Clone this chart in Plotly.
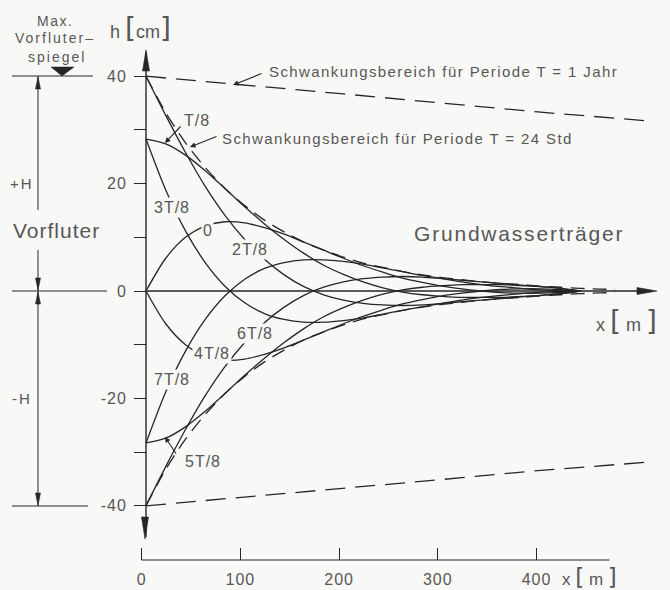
import plotly.graph_objects as go

# ---------------- data ----------------
x_m = [0, 20, 40, 60, 80, 100, 120, 140, 160, 180, 200, 220,
       240, 260, 280, 300, 320, 340, 360, 380, 400, 420, 440]

h_0T8 = [0.0, 6.1, 10.0, 12.1, 12.9, 12.7, 11.8, 10.6, 9.1, 7.6, 6.1, 4.7,
         3.5, 2.4, 1.6, 0.9, 0.4, 0.0, -0.3, -0.4, -0.4, -0.25, 0.0]
h_1T8 = [28.3, 27.4, 25.3, 22.4, 19.1, 15.7, 12.5, 9.6, 7.0, 4.8, 3.1, 1.7,
         0.6, -0.2, -0.7, -1.0, -1.2, -1.2, -1.2, -1.0, -0.8, -0.5, 0.0]
h_2T8 = [40.0, 32.7, 25.8, 19.5, 14.1, 9.6, 5.9, 3.0, 0.8, -0.7, -1.7, -2.3,
         -2.6, -2.7, -2.6, -2.3, -2.0, -1.7, -1.4, -1.1, -0.8, -0.5, 0.0]
h_3T8 = [28.3, 18.8, 11.2, 5.3, 0.9, -2.2, -4.2, -5.3, -5.8, -5.8, -5.5, -5.0,
         -4.3, -3.6, -2.9, -2.3, -1.7, -1.2, -0.8, -0.5, -0.2, -0.1, 0.0]
h_4T8 = [0.0, -6.1, -10.0, -12.1, -12.9, -12.7, -11.8, -10.6, -9.1, -7.6, -6.1, -4.7,
         -3.5, -2.4, -1.6, -0.9, -0.4, 0.0, 0.3, 0.4, 0.4, 0.25, 0.0]
h_5T8 = [-28.3, -27.4, -25.3, -22.4, -19.1, -15.7, -12.5, -9.6, -7.0, -4.8, -3.1, -1.7,
         -0.6, 0.2, 0.7, 1.0, 1.2, 1.2, 1.2, 1.0, 0.8, 0.5, 0.0]
h_6T8 = [-40.0, -32.7, -25.8, -19.5, -14.1, -9.6, -5.9, -3.0, -0.8, 0.7, 1.7, 2.3,
         2.6, 2.7, 2.6, 2.3, 2.0, 1.7, 1.4, 1.1, 0.8, 0.5, 0.0]
h_7T8 = [-28.3, -18.8, -11.2, -5.3, -0.9, 2.2, 4.2, 5.3, 5.8, 5.8, 5.5, 5.0,
         4.3, 3.6, 2.9, 2.3, 1.7, 1.2, 0.8, 0.5, 0.2, 0.1, 0.0]

x_env24 = [0, 20, 40, 60, 80, 100, 120, 140, 160, 180, 200, 220, 240,
           260, 280, 300, 320, 340, 360, 380, 400, 420, 440, 460, 475]
env24_upper = [40.0, 33.2, 27.6, 23.0, 19.1, 15.9, 13.2, 11.0, 9.1, 7.6, 6.3, 5.2, 4.4,
               3.6, 3.0, 2.5, 2.1, 1.7, 1.4, 1.2, 0.9, 0.7, 0.5, 0.35, 0.3]
env24_lower = [-40.0, -33.2, -27.6, -23.0, -19.1, -15.9, -13.2, -11.0, -9.1, -7.6, -6.3, -5.2, -4.4,
               -3.6, -3.0, -2.5, -2.1, -1.7, -1.4, -1.2, -0.9, -0.7, -0.5, -0.35, -0.3]

x_year = [0, 100, 200, 300, 400, 514]
year_upper = [40.0, 38.4, 36.7, 35.0, 33.3, 31.6]
year_lower = [-40.0, -38.4, -36.7, -35.1, -33.4, -31.8]

y_tick_vals = [-40, -30, -20, -10, 0, 10, 20, 30, 40]
y_tick_text = ["-40", "", "-20", "", "0", "", "20", "", "40"]
x_tick_vals = [0, 100, 200, 300, 400]
x_tick_text = ["0", "100", "200", "300", "400"]

# ---------------- styling / layout helpers ----------------
FIG_W, FIG_H = 670, 590
BG = "#f8f8f6"
INK = "#262626"
TXT = "#575757"
FONT = "Liberation Sans, Arial, sans-serif"

X_ORIGIN_PX, X_PX_PER_M = 146.0, 0.987
Y_ORIGIN_PX, Y_PX_PER_CM = 291.0, 5.37
BOTTOM_ORIGIN_PX = 141.7


def xm(px):
    return (px - X_ORIGIN_PX) / X_PX_PER_M


def hc(py):
    return (Y_ORIGIN_PX - py) / Y_PX_PER_CM


def pxp(px):
    return px / FIG_W


def pyp(py):
    return 1 - py / FIG_H


def spaced(s, ls):
    return f"<span style='letter-spacing:{ls}px'>{s}</span>"


fig = go.Figure()

for h in (h_0T8, h_1T8, h_2T8, h_3T8, h_4T8, h_5T8, h_6T8, h_7T8):
    fig.add_trace(go.Scatter(x=x_m, y=h, mode="lines", hoverinfo="skip",
                             line=dict(color=INK, width=1.3, shape="spline", smoothing=0.8)))

for env in (env24_upper, env24_lower):
    fig.add_trace(go.Scatter(x=x_env24, y=env, mode="lines", hoverinfo="skip",
                             line=dict(color=INK, width=1.3, dash="14px,8px",
                                       shape="spline", smoothing=0.8)))

for env in (year_upper, year_lower):
    fig.add_trace(go.Scatter(x=x_year, y=env, mode="lines", hoverinfo="skip",
                             line=dict(color=INK, width=1.3, dash="20px,10px")))

# bottom distance axis line
fig.add_trace(go.Scatter(x=[0, 474], y=[hc(560), hc(560)], xaxis="x2", mode="lines",
                         hoverinfo="skip", line=dict(color=INK, width=1.2)))

shapes = []


def seg(x0, y0, x1, y1, w=1.2):
    shapes.append(dict(type="line", xref="paper", yref="paper",
                       x0=pxp(x0), y0=pyp(y0), x1=pxp(x1), y1=pyp(y1),
                       line=dict(color=INK, width=w)))


def head(tx, ty, dx, dy, length, width):
    bx, by = tx - dx * length, ty - dy * length
    nx, ny = -dy, dx
    p1 = (bx + nx * width / 2, by + ny * width / 2)
    p2 = (bx - nx * width / 2, by - ny * width / 2)
    path = (f"M {pxp(tx)},{pyp(ty)} L {pxp(p1[0])},{pyp(p1[1])} "
            f"L {pxp(p2[0])},{pyp(p2[1])} Z")
    shapes.append(dict(type="path", xref="paper", yref="paper", path=path,
                       fillcolor=INK, line=dict(color=INK, width=0.6)))


# main axes (data coordinates)
shapes.append(dict(type="line", xref="x", yref="y", x0=0, x1=0, y0=hc(52), y1=hc(537),
                   line=dict(color=INK, width=1.4)))
shapes.append(dict(type="line", xref="x", yref="y", x0=0, x1=xm(652), y0=0, y1=0,
                   line=dict(color=INK, width=1.3)))
head(146, 50, 0, -1, 21, 7)
head(145, 539, 0, 1, 22, 7)
head(657, 291, 1, 0, 20, 7)

# left-hand water level sketch
seg(12, 76, 93, 76)
seg(12, 291, 107, 291)
seg(12, 506, 88, 506)
seg(38, 76, 38, 210, 1.0)
seg(38, 250, 38, 291, 1.0)
seg(38, 291, 38, 506, 1.0)
head(38, 77, 0, -1, 12, 5)
head(38, 290, 0, 1, 12, 5)
head(38, 292, 0, -1, 12, 5)
head(38, 505, 0, 1, 12, 5)
shapes.append(dict(type="path", xref="paper", yref="paper",
                   path=f"M {pxp(51)},{pyp(67)} L {pxp(74)},{pyp(67)} L {pxp(62)},{pyp(76)} Z",
                   fillcolor=INK, line=dict(color=INK, width=0.5)))

ann = []


def text(px, py, s, size=15, xanchor="center", bg=None, color=TXT):
    d = dict(x=pxp(px), y=pyp(py), xref="paper", yref="paper", text=s, showarrow=False,
             xanchor=xanchor, yanchor="middle", borderpad=1,
             font=dict(size=size, color=color, family=FONT))
    if bg:
        d["bgcolor"] = bg
    ann.append(d)


def pointer(tipx, tipy, tailx, taily):
    ann.append(dict(x=pxp(tipx), y=pyp(tipy), xref="paper", yref="paper",
                    ax=tailx - tipx, ay=taily - tipy, axref="pixel", ayref="pixel",
                    text="", showarrow=True, arrowhead=2, arrowsize=1,
                    arrowwidth=1.1, arrowcolor=INK))


def bracketed(prefix, unit, size):
    br = ("<span style='font-size:%dpx;font-family:DejaVu Sans ExtraLight, "
          "DejaVu Sans, sans-serif'>%%s</span>" % size)
    return prefix + br % "[" + unit + br % "]"


text(55, 21, spaced("Max.", 1.5), 14)
text(55, 38, spaced("Vorfluter–", 2), 14)
text(57, 57, spaced("spiegel", 2), 14)
text(140, 28, bracketed("h ", "cm", 28), 18)
text(36, 183, spaced("+H", 2), 15, "right")
text(34, 398, spaced("-H", 2), 15, "right")
text(56, 230, spaced("Vorfluter", 1), 21)
text(519, 233, spaced("Grundwasserträger", 1.8), 21)
text(626, 321, bracketed("x ", " m ", 28), 18)
text(589, 577, bracketed("x ", " m ", 23), 17)

text(267, 72, spaced("Schwankungsbereich für Periode T = 1 Jahr", 1.4), 15, "left")
text(220, 138, spaced("Schwankungsbereich für Periode T = 24 Std", 1.4), 15, "left")
pointer(233, 85, 263, 73)
pointer(190, 147, 218, 136)

text(197, 120, spaced("T/8", 1), 16)
pointer(165, 143, 182, 125)
text(172, 207, spaced("3T/8", 1), 16, bg=BG)
text(207, 230, "0", 16, bg=BG)
text(250, 249, spaced("2T/8", 1), 16, bg=BG)
text(255, 333, spaced("6T/8", 1), 16, bg=BG)
text(212, 353, spaced("4T/8", 1), 16, bg=BG)
text(172, 380, spaced("7T/8", 1), 16, bg=BG)
text(203, 461, spaced("5T/8", 1), 16)
pointer(165, 437, 177, 455)

fig.update_layout(
    width=FIG_W, height=FIG_H, margin=dict(l=0, r=0, t=0, b=0),
    paper_bgcolor=BG, plot_bgcolor=BG, showlegend=False,
    font=dict(family=FONT, color=TXT),
    xaxis=dict(range=[xm(0), xm(FIG_W)], visible=False, fixedrange=True),
    xaxis2=dict(overlaying="x", anchor="free", position=pyp(560), side="bottom",
                range=[(0 - BOTTOM_ORIGIN_PX) / X_PX_PER_M, (FIG_W - BOTTOM_ORIGIN_PX) / X_PX_PER_M],
                tickvals=x_tick_vals, ticktext=[spaced(t, 1) for t in x_tick_text],
                ticks="inside", ticklen=12,
                tickwidth=1.2, tickcolor=INK, showgrid=False, zeroline=False, showline=False,
                ticklabelstandoff=8, tickfont=dict(size=16, color=TXT, family=FONT),
                automargin=False, fixedrange=True),
    yaxis=dict(range=[hc(FIG_H), hc(0)], anchor="free", position=pxp(146), side="left",
               tickvals=y_tick_vals, ticktext=[spaced(t, 1) for t in y_tick_text],
               ticks="outside", ticklen=12, ticklabelstandoff=4,
               tickwidth=1.2, tickcolor=INK, showgrid=False, zeroline=False, showline=False,
               tickfont=dict(size=16, color=TXT, family=FONT), automargin=False,
               fixedrange=True),
    shapes=shapes,
    annotations=ann,
)

fig.write_html("out.html", config={"displayModeBar": False},
               post_script="document.body.style.margin='0px';document.body.style.overflow='hidden';")
